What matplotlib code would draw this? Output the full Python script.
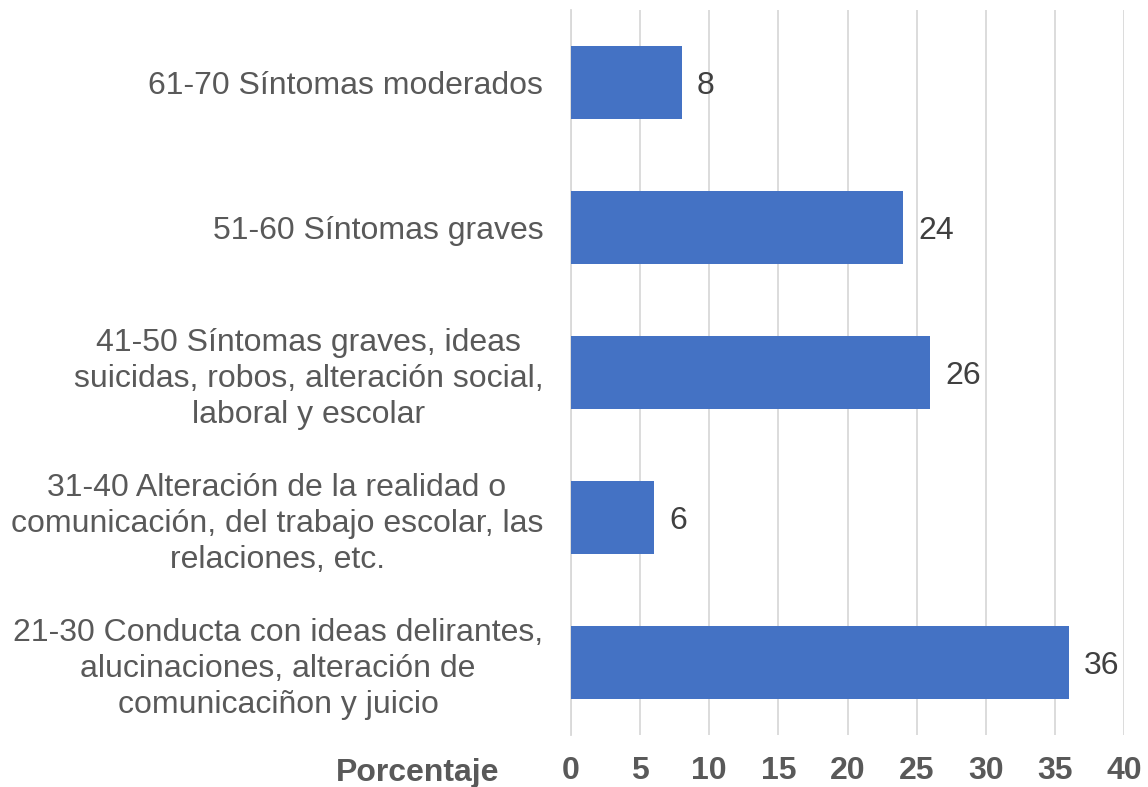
import numpy as np
import matplotlib.pyplot as plt

categorias = [
    "21-30 Conducta con ideas delirantes,\nalucinaciones, alteración de\ncomunicaciñon y juicio",
    "31-40 Alteración de la realidad o\ncomunicación, del trabajo escolar, las\nrelaciones, etc.",
    "41-50 Síntomas graves, ideas\nsuicidas, robos, alteración social,\nlaboral y escolar",
    "51-60 Síntomas graves",
    "61-70 Síntomas moderados",
]
porcentaje = [36, 6, 26, 24, 8]
xticks = [0, 5, 10, 15, 20, 25, 30, 35, 40]

fig = plt.figure(figsize=(11.48, 7.87), dpi=100)
ax = fig.add_axes([571 / 1148, 1 - 735 / 787, 553 / 1148, 725 / 787])

y = np.arange(len(categorias))
ax.barh(y, porcentaje, height=0.5, color="#4472C4", zorder=3)
for yi, v in zip(y, porcentaje):
    ax.annotate(str(v), (v, yi), xytext=(11, 0), textcoords="offset points",
                ha="left", va="center_baseline", fontsize=23, color="#404040",
                family="Liberation Sans")

ax.set_xlim(0, 40)
ax.set_ylim(-0.5, len(categorias) - 0.5)
ax.set_xticks(xticks)
ax.set_xticklabels([str(t) for t in xticks], family="Liberation Sans",
                   fontweight="bold", fontsize=23, color="#595959")
ax.set_yticks(y)
ax.set_yticklabels(categorias, family="Liberation Sans", fontsize=23,
                   color="#595959", ha="right", multialignment="center",
                   linespacing=1.25)
ax.tick_params(axis="y", length=0, pad=20)
ax.tick_params(axis="x", length=0, pad=15)

ax.grid(axis="x", color="#D9D9D9", linewidth=1.3, zorder=0)
for s in ["top", "right", "bottom"]:
    ax.spines[s].set_visible(False)
ax.spines["left"].set_color("#D9D9D9")
ax.spines["left"].set_linewidth(1.3)

ax.text(-0.13, -0.0525, "Porcentaje", transform=ax.transAxes, ha="right", va="center",
        family="Liberation Sans", fontweight="bold",
        fontsize=23, color="#595959")

plt.savefig("out.png", dpi=100)
